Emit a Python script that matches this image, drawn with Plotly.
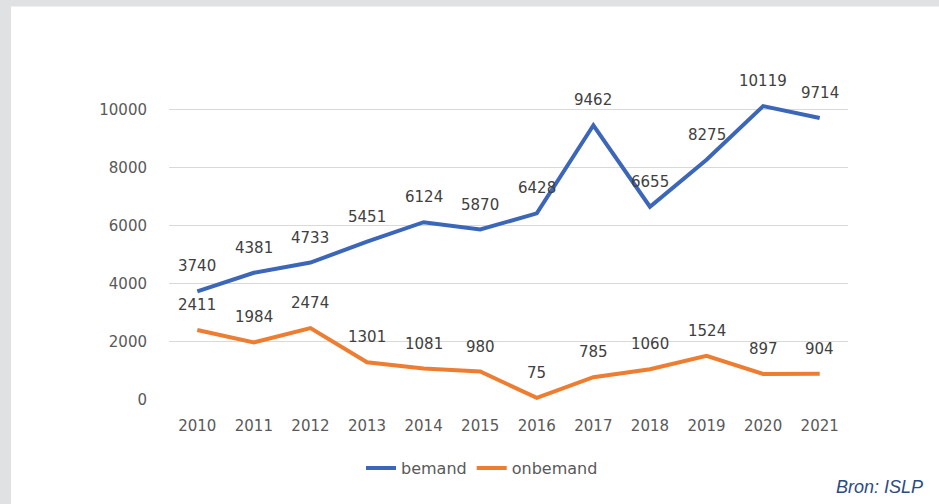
import plotly.graph_objects as go

years = ["2010", "2011", "2012", "2013", "2014", "2015", "2016", "2017", "2018", "2019", "2020", "2021"]
bemand = [3740, 4381, 4733, 5451, 6124, 5870, 6428, 9462, 6655, 8275, 10119, 9714]
onbemand = [2411, 1984, 2474, 1301, 1081, 980, 75, 785, 1060, 1524, 897, 904]
y_ticks = [0, 2000, 4000, 6000, 8000, 10000]

BLUE = "#3C67B9"
ORANGE = "#ED7D31"
FONT = "DejaVu Sans"

fig = go.Figure()
fig.add_trace(go.Scatter(x=years, y=bemand, name="bemand", mode="lines",
                         line=dict(color=BLUE, width=4)))
fig.add_trace(go.Scatter(x=years, y=onbemand, name="onbemand", mode="lines",
                         line=dict(color=ORANGE, width=4)))

# data labels above each point (Excel-style); x given as category index
for series in (bemand, onbemand):
    for i, v in enumerate(series):
        fig.add_annotation(x=i, y=v, text=str(v), showarrow=False, yshift=25,
                           font=dict(family=FONT, size=15, color="#404040"))

fig.add_annotation(text="<i>Bron: ISLP</i>", xref="paper", yref="paper",
                   x=1.113, y=-0.2885, xanchor="right", yanchor="middle", showarrow=False,
                   font=dict(family="Liberation Sans", size=18, color="#2B4C80"))

# grey page border (top and left)
fig.add_shape(type="rect", xref="paper", yref="paper", x0=-0.26, x1=-0.2327, y0=-0.4, y1=1.4,
              fillcolor="#E0E1E3", line_width=0, layer="below")
fig.add_shape(type="rect", xref="paper", yref="paper", x0=-0.26, x1=1.2, y0=1.303, y1=1.4,
              fillcolor="#E0E1E3", line_width=0, layer="below")

fig.update_layout(
    width=939, height=504,
    margin=dict(l=169, r=91, t=98, b=104),
    paper_bgcolor="white", plot_bgcolor="white",
    font=dict(family=FONT, size=15, color="#595959"),
    showlegend=True,
    legend=dict(orientation="h", x=0.461, xanchor="center", y=-0.2255, yanchor="middle",
                font=dict(family=FONT, size=16, color="#595959")),
    xaxis=dict(type="category", range=[-0.5, len(years) - 0.5], showgrid=False, showline=False,
               ticks="outside", ticklen=12, tickcolor="rgba(0,0,0,0)",
               tickfont=dict(size=15, color="#595959")),
    yaxis=dict(range=[0, 10400], tickvals=y_ticks, tickformat="d", showgrid=True,
               gridcolor="#D9D9D9", gridwidth=1, zeroline=False, showline=False,
               ticks="outside", ticklen=18, tickcolor="rgba(0,0,0,0)",
               tickfont=dict(size=15, color="#595959")),
)

fig.write_html("out.html", config={"displayModeBar": False},
               post_script="document.body.style.margin='0';")
